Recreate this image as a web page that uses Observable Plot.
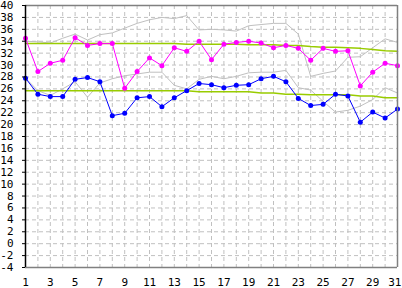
<!DOCTYPE html>
<html>
<head>
<meta charset="utf-8">
<script src="https://cdn.jsdelivr.net/npm/d3@7"></script>
<script src="https://cdn.jsdelivr.net/npm/@observablehq/plot@0.6"></script>
<style>
  html, body { margin: 0; padding: 0; background: #fff; }
  svg { display: block; }
</style>
</head>
<body>
<div id="chart"></div>
<script>
const days = [1,2,3,4,5,6,7,8,9,10,11,12,13,14,15,16,17,18,19,20,21,22,23,24,25,26,27,28,29,30,31];
const xTickLabels = [1,3,5,7,9,11,13,15,17,19,21,23,25,27,29,31];
const yTickLabels = [-4,-2,0,2,4,6,8,10,12,14,16,18,20,22,24,26,28,30,32,34,36,38,40];

// daily maximum (magenta)
const maxTemp = [34.5,28.9,30.3,30.8,34.6,33.3,33.6,33.6,26.1,28.9,31.2,29.9,32.9,32.3,34.0,30.9,33.5,33.8,34.0,33.7,32.9,33.3,32.8,30.8,32.8,32.3,32.4,26.5,28.8,30.3,29.9];
// daily minimum (blue)
const minTemp = [27.8,25.1,24.7,24.7,27.6,27.9,27.2,21.5,21.9,24.5,24.7,23.0,24.5,25.7,26.9,26.7,26.2,26.6,26.7,27.7,28.1,27.2,24.4,23.2,23.4,25.1,24.8,20.4,22.1,21.1,22.6];
// normal maximum / minimum (yellow-green)
const normalMax = [33.6,33.6,33.6,33.6,33.6,33.6,33.6,33.6,33.6,33.6,33.6,33.6,33.6,33.5,33.5,33.5,33.5,33.5,33.4,33.4,33.4,33.3,33.3,33.1,33.0,33.0,32.9,32.8,32.6,32.4,32.3];
const normalMin = [25.7,25.7,25.7,25.7,25.7,25.7,25.7,25.7,25.7,25.7,25.7,25.7,25.7,25.7,25.5,25.5,25.5,25.5,25.5,25.3,25.3,25.1,25.1,25.0,25.0,25.0,25.0,24.8,24.8,24.5,24.5];
// comparison series (gray)
const grayHigh = [34.0,33.9,33.7,34.5,35.2,34.2,35.1,35.4,36.2,37.0,37.6,38.0,37.8,38.3,35.9,36.0,35.9,35.7,36.6,36.8,37.0,37.0,35.2,28.1,28.6,29.0,31.3,31.4,32.9,34.4,33.8];
const grayLow = [27.8,25.7,24.9,26.0,27.2,24.6,27.0,27.7,28.2,28.5,28.8,28.8,26.6,26.0,27.6,28.1,27.7,28.1,28.7,28.8,28.8,29.1,26.2,25.8,23.9,22.1,22.4,23.1,24.2,26.2,25.3];

const gridX = days.slice(1, -1);
const gridY = yTickLabels.slice(1, -1);
const xLabelsMain = xTickLabels.slice(0, -1);
const xLabelsLast = xTickLabels.slice(-1);

const series = (vals) => vals.map((v, i) => ({day: days[i], v}));

const chart = Plot.plot({
  width: 402,
  height: 288,
  marginLeft: 25,
  marginRight: 5,
  marginTop: 5,
  marginBottom: 21,
  style: {fontFamily: "'DejaVu Sans Mono', monospace", fontSize: "11px", background: "#fff", color: "#000"},
  x: {domain: [1, 31], axis: null},
  y: {domain: [-4, 40], axis: null},
  marks: [
    Plot.gridX(gridX, {stroke: "#c0c0c0", strokeOpacity: 1, strokeDasharray: "4,3"}),
    Plot.gridY(gridY, {stroke: "#c0c0c0", strokeOpacity: 1, strokeDasharray: "4,3"}),
    Plot.line(series(grayHigh), {x: "day", y: "v", stroke: "#c0c0c0", strokeWidth: 1}),
    Plot.line(series(grayLow), {x: "day", y: "v", stroke: "#c0c0c0", strokeWidth: 1}),
    Plot.line(series(normalMax), {x: "day", y: "v", stroke: "#99cc00", strokeWidth: 1.5}),
    Plot.line(series(normalMin), {x: "day", y: "v", stroke: "#99cc00", strokeWidth: 1.5}),
    Plot.line(series(maxTemp), {x: "day", y: "v", stroke: "#ff00ff", strokeWidth: 1}),
    Plot.dot(series(maxTemp), {x: "day", y: "v", fill: "#ff00ff", r: 2.5, stroke: null}),
    Plot.line(series(minTemp), {x: "day", y: "v", stroke: "#0000ff", strokeWidth: 1}),
    Plot.dot(series(minTemp), {x: "day", y: "v", fill: "#0000ff", r: 2.5, stroke: null}),
    Plot.ruleY([40], {stroke: "#808080", strokeWidth: 1.5}),
    Plot.ruleX([31], {stroke: "#808080", strokeWidth: 1.5}),
    Plot.ruleY([-4], {stroke: "#808080", strokeWidth: 1.5}),
    Plot.ruleX([1], {stroke: "#000", strokeWidth: 1.5}),
    Plot.axisY(yTickLabels, {tickSize: 3, tickPadding: 9, stroke: "#000", fill: "#000", tickFormat: d => String(d), label: null}),
    Plot.axisX(xLabelsMain, {tickSize: 0, tickPadding: 11, fill: "#000", tickFormat: d => String(d), label: null}),
    Plot.axisX(xLabelsLast, {tickSize: 0, tickPadding: 11, fill: "#000", tickFormat: d => String(d), label: null, textAnchor: "end", dx: 4})
  ]
});
document.getElementById("chart").appendChild(chart);
</script>
</body>
</html>
